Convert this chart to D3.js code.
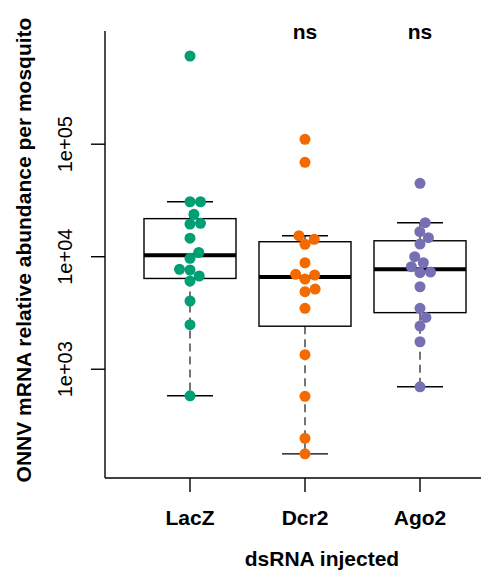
<!DOCTYPE html>
<html>
<head>
<meta charset="utf-8">
<script src="https://cdn.jsdelivr.net/npm/d3@7"></script>
<style>
  body { margin: 0; background: #fff; }
  svg { display: block; font-family: "Liberation Sans", Arial, Helvetica, sans-serif; }
</style>
</head>
<body>
<div id="chart"></div>
<script>
// ONNV mRNA per mosquito, one array per dsRNA group

var groups = ["LacZ", "Dcr2", "Ago2"];
var colors = ["#009E73", "#F26A00", "#7570B3"];
var sigLabels = ["", "ns", "ns"];

var lacz = [608000, 30800, 30800, 23800, 19800, 19500, 14600, 10900, 9680, 7730, 7620, 6740, 6080, 4040, 2490, 581];
var dcr2 = [110600, 69000, 15370, 14290, 12890, 8840, 6980, 6880, 6330, 5160, 4890, 3480, 1346, 574, 243, 177];
var ago2 = [44900, 20050, 16680, 14750, 12970, 10000, 8840, 8150, 7310, 7210, 5410, 3480, 2890, 2420, 1755, 698];

var yTicks = [1e3, 1e4, 1e5];
var yTickLabels = ["1e+03", "1e+04", "1e+05"];

var values = [lacz, dcr2, ago2];

var W = 481, H = 573;
var margin = {top: 31, right: 0, bottom: 95, left: 105};

var svg = d3.select("#chart").append("svg")
    .attr("width", W)
    .attr("height", H);

var x = d3.scaleBand()
    .domain(groups)
    .range([132.5, 477.5]);

var y = d3.scaleLog()
    .domain([108, 1.014e6])
    .range([H - margin.bottom, margin.top]);

// R style five number summary (Tukey hinges)
function fivenum(v) {
  var s = v.slice().sort(d3.ascending), n = s.length;
  var n4 = Math.floor((n + 3) / 2) / 2;
  var idx = [1, n4, (n + 1) / 2, n + 1 - n4, n];
  return idx.map(function(k) { return 0.5 * (s[Math.floor(k) - 1] + s[Math.ceil(k) - 1]); });
}

// beeswarm "swarm" placement, done in pixel space
function swarm(v, d) {
  var order = d3.range(v.length).sort(function(a, b) { return v[a] - v[b]; });
  var placed = [], out = new Array(v.length);
  order.forEach(function(i) {
    var py = y(v[i]);
    var cands = [0], minus = [];
    placed.forEach(function(p) {
      var dy = p.y - py;
      if (Math.abs(dy) < d) {
        var h = Math.sqrt(d * d - dy * dy);
        cands.push(p.x + h);
        minus.push(p.x - h);
      }
    });
    cands = cands.concat(minus).filter(function(c) {
      return !placed.some(function(p) {
        return (p.x - c) * (p.x - c) + (p.y - py) * (p.y - py) < 0.999 * d * d;
      });
    });
    var best = cands[0];
    cands.forEach(function(c) { if (Math.abs(c) < Math.abs(best)) best = c; });
    placed.push({x: best, y: py});
    out[i] = {v: v[i], dx: best};
  });
  return out;
}

var bw = x.bandwidth() * 0.8;

groups.forEach(function(g, gi) {
  var v = values[gi];
  var f = fivenum(v);
  var iqr = f[3] - f[1];
  var hi = d3.max(v.filter(function(d) { return d <= f[3] + 1.5 * iqr; }));
  var lo = d3.min(v.filter(function(d) { return d >= f[1] - 1.5 * iqr; }));
  var cx = x(g) + x.bandwidth() / 2;
  var grp = svg.append("g");

  // whiskers
  grp.selectAll(".whisk")
      .data([[f[3], hi], [f[1], lo]])
      .enter().append("line")
      .attr("x1", cx).attr("x2", cx)
      .attr("y1", function(d) { return y(d[0]); })
      .attr("y2", function(d) { return y(d[1]); })
      .attr("stroke", "#3a3a3a")
      .attr("stroke-width", 1.4)
      .attr("stroke-dasharray", "8,5");

  grp.selectAll(".staple")
      .data([hi, lo])
      .enter().append("line")
      .attr("x1", cx - bw / 4).attr("x2", cx + bw / 4)
      .attr("y1", function(d) { return y(d); })
      .attr("y2", function(d) { return y(d); })
      .attr("stroke", "#000")
      .attr("stroke-width", 1.4);

  grp.append("rect")
      .attr("x", cx - bw / 2)
      .attr("y", y(f[3]))
      .attr("width", bw)
      .attr("height", y(f[1]) - y(f[3]))
      .attr("fill", "none")
      .attr("stroke", "#000")
      .attr("stroke-width", 1.4);

  grp.append("line")
      .attr("x1", cx - bw / 2).attr("x2", cx + bw / 2)
      .attr("y1", y(f[2])).attr("y2", y(f[2]))
      .attr("stroke", "#000")
      .attr("stroke-width", 4);

  grp.selectAll("circle")
      .data(swarm(v, 10.5))
      .enter().append("circle")
      .attr("cx", function(d) { return cx + d.dx; })
      .attr("cy", function(d) { return y(d.v); })
      .attr("r", 5.5)
      .attr("fill", colors[gi]);

  grp.append("text")
      .attr("x", cx)
      .attr("y", 39)
      .attr("text-anchor", "middle")
      .attr("font-size", 21)
      .attr("font-weight", "bold")
      .text(sigLabels[gi]);
});

// axes
var yAxis = svg.append("g");
yAxis.append("line")
    .attr("x1", margin.left).attr("x2", margin.left)
    .attr("y1", margin.top).attr("y2", H - margin.bottom)
    .attr("stroke", "#000").attr("stroke-width", 1.4);
yAxis.selectAll(".tick")
    .data(yTicks)
    .enter().append("line")
    .attr("x1", margin.left - 14).attr("x2", margin.left)
    .attr("y1", function(d) { return y(d); })
    .attr("y2", function(d) { return y(d); })
    .attr("stroke", "#000").attr("stroke-width", 1.4);
yAxis.selectAll("text")
    .data(yTicks)
    .enter().append("text")
    .attr("transform", function(d) { return "translate(72," + y(d) + ") rotate(-90)"; })
    .attr("text-anchor", "middle")
    .attr("font-size", 20)
    .text(function(d, i) { return yTickLabels[i]; });

var xAxis = svg.append("g");
xAxis.append("line")
    .attr("x1", margin.left).attr("x2", W)
    .attr("y1", H - margin.bottom).attr("y2", H - margin.bottom)
    .attr("stroke", "#000").attr("stroke-width", 1.4);
xAxis.selectAll(".tick")
    .data(groups)
    .enter().append("line")
    .attr("x1", function(d) { return x(d) + x.bandwidth() / 2; })
    .attr("x2", function(d) { return x(d) + x.bandwidth() / 2; })
    .attr("y1", H - margin.bottom).attr("y2", H - margin.bottom + 14)
    .attr("stroke", "#000").attr("stroke-width", 1.4);
xAxis.selectAll("text")
    .data(groups)
    .enter().append("text")
    .attr("x", function(d) { return x(d) + x.bandwidth() / 2; })
    .attr("y", 525)
    .attr("text-anchor", "middle")
    .attr("font-size", 21)
    .attr("font-weight", "bold")
    .text(function(d) { return d; });

svg.append("text")
    .attr("x", 322)
    .attr("y", 566)
    .attr("text-anchor", "middle")
    .attr("font-size", 21)
    .attr("font-weight", "bold")
    .text("dsRNA injected");

svg.append("text")
    .attr("transform", "translate(31,250) rotate(-90)")
    .attr("text-anchor", "middle")
    .attr("font-size", 21)
    .attr("font-weight", "bold")
    .text("ONNV mRNA relative abundance per mosquito");
</script>
</body>
</html>
